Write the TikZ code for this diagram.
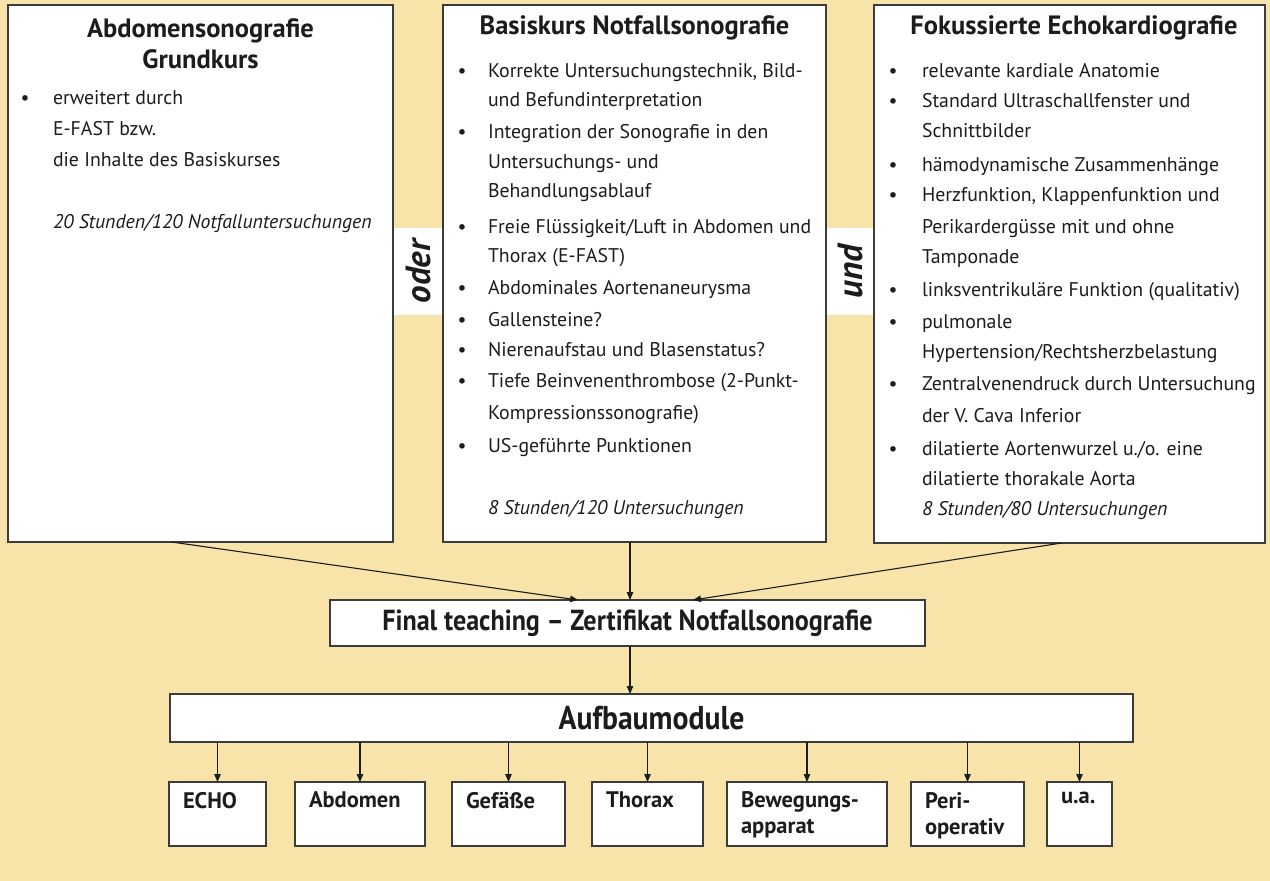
\documentclass[tikz,border=0pt]{standalone}
\usepackage{fontspec}
\setmainfont{PT Sans}
\newfontfamily\condfont[FakeStretch=0.9]{PT Sans}
\usetikzlibrary{arrows.meta,calc}
\definecolor{bg}{RGB}{248,228,168}
\definecolor{ink}{RGB}{28,28,28}
\definecolor{frame}{RGB}{60,60,60}
\begin{document}
\begin{tikzpicture}[x=1pt,y=-1pt,
  box/.style={draw=frame,line width=1.2pt,fill=white,inner sep=0pt,outer sep=0pt,anchor=north west},
  txt/.style={inner sep=0pt,outer sep=0pt,anchor=base west,text=ink,font=\fontsize{19.8}{30}\selectfont},
  bul/.style={inner sep=0pt,outer sep=0pt,anchor=base,text=ink,font=\fontsize{19.8}{30}\selectfont},
  head/.style={inner sep=0pt,outer sep=0pt,anchor=base,text=ink,font=\fontsize{26.5}{31}\selectfont\bfseries},
  note/.style={inner sep=0pt,outer sep=0pt,anchor=base west,text=ink,font=\fontsize{19.8}{30}\selectfont\itshape},
  strip/.style={fill=white,inner sep=0pt,outer sep=0pt,minimum width=87pt,minimum height=49pt,text=ink,font=\fontsize{35}{38}\selectfont\bfseries\itshape},
  arr/.style={draw=ink,line width=1.1pt,-{Triangle[length=8pt,width=6.5pt]}},
  mod/.style={draw=frame,line width=1.2pt,fill=white,inner sep=0pt,outer sep=0pt,minimum height=64pt,anchor=north west},
  modlbl/.style={inner sep=0pt,outer sep=0pt,anchor=north west,align=left,text=ink,font=\bfseries\fontsize{22.5}{26}\selectfont},
  bar/.style={draw=frame,line width=1.2pt,fill=white,inner sep=0pt,outer sep=0pt,text=ink},
]
\useasboundingbox (0,0) rectangle (1270,881);
\fill[bg] (0,0) rectangle (1270,881);

% strips between the boxes
\node[strip,rotate=90] (oder) at (418,271.5) {oder};
\node[strip,rotate=90] (und) at (850,271.5) {und};

% three course boxes
\node[box,minimum width=385pt,minimum height=537pt] (abd) at (8,5) {};
\node[box,minimum width=383pt,minimum height=537pt] (basis) at (443,5) {};
\node[box,minimum width=391pt,minimum height=538pt] (echo) at (874,5) {};

% left box
\node[head] (abdh1) at (200.5,37) {Abdomensonografie};
\node[head] (abdh2) at (200.5,68) {Grundkurs};
\node[bul] (ab1) at (25,104) {\textbullet};
\node[txt] (a1) at (53,104) {erweitert durch};
\node[txt] (a2) at (53,135) {E-FAST bzw.};
\node[txt] (a3) at (53,166) {die Inhalte des Basiskurses};
\node[note] (an) at (53,228) {20 Stunden/120 Notfalluntersuchungen};

% middle box
\node[head] (basish) at (634.5,34) {Basiskurs Notfallsonografie};
\foreach \s/\y [count=\i] in {
  {Korrekte Untersuchungstechnik, Bild-}/77,
  {und Befundinterpretation}/106,
  {Integration der Sonografie in den}/138,
  {Untersuchungs- und}/168,
  {Behandlungsablauf}/197,
  {Freie Flüssigkeit/Luft in Abdomen und}/233,
  {Thorax (E-FAST)}/262,
  {Abdominales Aortenaneurysma}/294,
  {Gallensteine?}/326,
  {Nierenaufstau und Blasenstatus?}/356,
  {Tiefe Beinvenenthrombose (2-Punkt-}/387,
  {Kompressionssonografie)}/419,
  {US-geführte Punktionen}/452}
  \node[txt] (m\i) at (488,\y) {\s};
\foreach \y [count=\i] in {77,138,233,294,326,356,387,452}
  \node[bul] (mb\i) at (462,\y) {\textbullet};
\node[note] (mn) at (488,514) {8 Stunden/120 Untersuchungen};

% right box
\node[head] (echoh) at (1074,34) {Fokussierte Echokardiografie};
\foreach \s/\y [count=\i] in {
  {relevante kardiale Anatomie}/77,
  {Standard Ultraschallfenster und}/107,
  {Schnittbilder}/137,
  {hämodynamische Zusammenhänge}/171,
  {Herzfunktion, Klappenfunktion und}/201,
  {Perikardergüsse mit und ohne}/233,
  {Tamponade}/263,
  {linksventrikuläre Funktion (qualitativ)}/296,
  {pulmonale}/328,
  {Hypertension/Rechtsherzbelastung}/358,
  {Zentralvenendruck durch Untersuchung}/390,
  {der V. Cava Inferior}/422,
  {dilatierte Aortenwurzel u./o. eine}/455,
  {dilatierte thorakale Aorta}/485}
  \node[txt] (r\i) at (922,\y) {\s};
\foreach \y [count=\i] in {77,107,171,201,296,328,390,455}
  \node[bul] (rb\i) at (893,\y) {\textbullet};
\node[note] (rn) at (922,515) {8 Stunden/80 Untersuchungen};

% final teaching
\node[bar,minimum width=595pt,minimum height=46pt,
      font=\condfont\bfseries\fontsize{29}{32}\selectfont] (final) at (627.5,623) {Final teaching – Zertifikat Notfallsonografie};
% Aufbaumodule
\node[bar,minimum width=963pt,minimum height=48pt,
      font=\condfont\bfseries\fontsize{33}{36}\selectfont] (aufbau) at (651.5,718) {Aufbaumodule};

% connectors into final
\coordinate (mx) at (630,0);
\coordinate (ls) at ($(abd.south west)!0.425!(abd.south east)$);
\coordinate (lt) at ($(final.north west)!0.417!(final.north east)$);
\coordinate (rs) at ($(echo.south west)!0.48!(echo.south east)$);
\coordinate (rt) at ($(final.north west)!0.61!(final.north east)$);
\draw[arr] (ls) -- (lt);
\draw[arr] (basis.south -| mx) -- (final.north -| mx);
\draw[arr] (rs) -- (rt);
\draw[arr] (final.south -| mx) -- (aufbau.north -| mx);

% modules
\foreach \n/\x/\w/\t in {
  m1/169/97/{ECHO},
  m2/295/130/{Abdomen},
  m3/452/113/{Gefäße},
  m4/592/111/{Thorax},
  m5/727/160/{Bewegungs-\\apparat},
  m6/911/113/{Peri-\\operativ},
  m7/1047/65/{u.a.}}
{
  \node[mod,minimum width=\w pt] (\n) at (\x,782) {};
  \node[modlbl] (\n l) at ($(\n.north west)+(14,10)$) {\t};
  \draw[arr] (aufbau.south -| \n.north) -- (\n.north);
}
\end{tikzpicture}
\end{document}
